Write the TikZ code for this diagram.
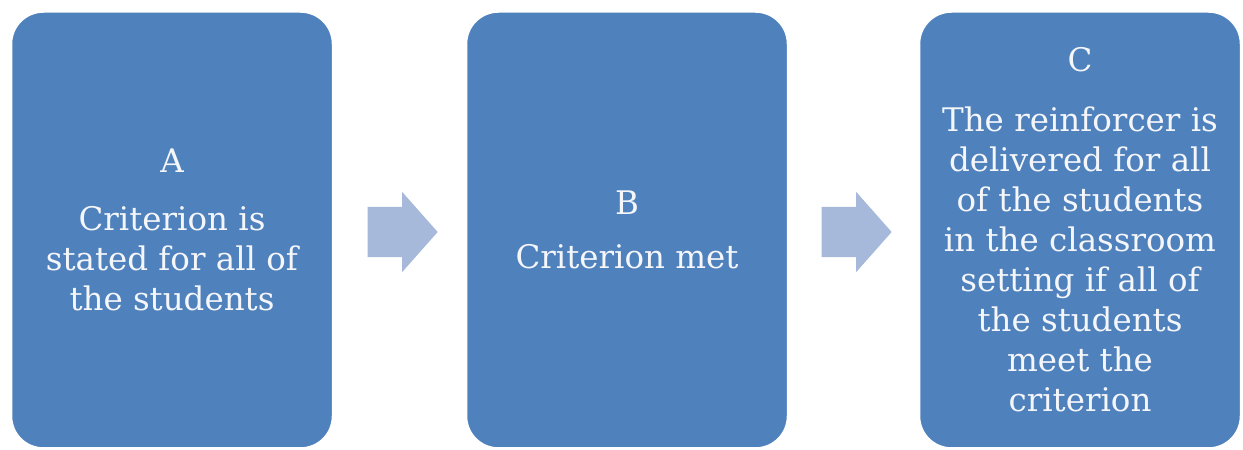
\documentclass[tikz,border=0pt]{standalone}
\usepackage{fontspec}
\setmainfont{DejaVu Serif}
\usetikzlibrary{shapes.arrows,calc}
\definecolor{boxblue}{HTML}{4F81BD}
\definecolor{arrowblue}{HTML}{A7B9DB}
\definecolor{boxtext}{HTML}{F4F6FA}
\tikzset{
  stage/.style={rectangle, rounded corners=32pt, fill=boxblue, draw=white,
    line width=1.5pt, minimum width=321pt, minimum height=436pt,
    inner sep=0pt, align=center, text=boxtext,
    font=\fontsize{32.5}{40}\selectfont},
  flow/.style={single arrow, fill=arrowblue, draw=none, minimum height=70pt,
    single arrow head extend=15pt, single arrow tip angle=97,
    inner xsep=0pt, inner ysep=25pt},
}
\begin{document}
\begin{tikzpicture}[x=1pt,y=1pt]
  \useasboundingbox (0,0) rectangle (1243,450);
  \node[stage] (A) at (172,220) {A\\[18pt]Criterion is\\stated for all of\\the students};
  \node[stage] (B) at (627,220) {B\\[14pt]Criterion met};
  \node[stage] (C) at (1080,220) {C\\[20pt]The reinforcer is\\delivered for all\\of the students\\in the classroom\\setting if all of\\the students\\meet the\\criterion};
  \node[flow] (arrAB) at ($(A.east)!0.5!(B.west)+(-8,-2)$) {};
  \node[flow] (arrBC) at ($(B.east)!0.5!(C.west)+(-8,-2)$) {};
\end{tikzpicture}
\end{document}
